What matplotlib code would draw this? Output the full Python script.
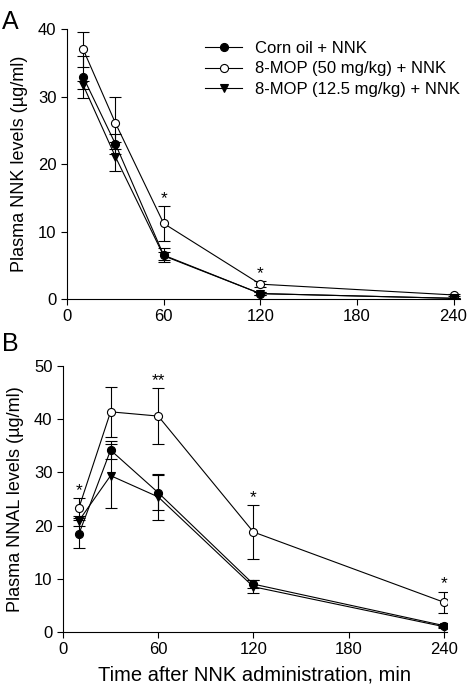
import matplotlib
matplotlib.use("Agg")
import matplotlib.pyplot as plt
import numpy as np

plt.rcParams['font.family'] = ['Liberation Sans', 'DejaVu Sans']

time = [10, 30, 60, 120, 240]
labels = ["Corn oil + NNK", "8-MOP (50 mg/kg) + NNK", "8-MOP (12.5 mg/kg) + NNK"]

# Panel A: plasma NNK (ug/ml)
nnk_corn = [32.9, 23.0, 6.5, 0.8, 0.1]
nnk_corn_err = [3.1, 1.5, 1.0, 0.2, 0.1]
nnk_mop50 = [37.0, 26.1, 11.2, 2.2, 0.6]
nnk_mop50_err = [2.6, 3.9, 2.55, 0.4, 0.1]
nnk_mop12 = [31.7, 21.1, 6.4, 0.8, 0.1]
nnk_mop12_err = [0.6, 2.1, 0.6, 0.2, 0.1]
nnk_stars = {60: "*", 120: "*"}

# Panel B: plasma NNAL (ug/ml)
nnal_corn = [18.4, 34.2, 26.2, 9.0, 1.2]
nnal_corn_err = [2.7, 1.7, 3.3, 0.8, 0.3]
nnal_mop50 = [23.3, 41.4, 40.6, 18.8, 5.6]
nnal_mop50_err = [1.9, 4.7, 5.2, 5.0, 2.0]
nnal_mop12 = [20.9, 29.4, 25.4, 8.5, 1.0]
nnal_mop12_err = [0.9, 6.0, 4.3, 1.2, 0.2]
nnal_stars = {10: "*", 60: "**", 120: "*", 240: "*"}

styles = [
    dict(marker="o", mfc="black", mec="black"),
    dict(marker="o", mfc="white", mec="black"),
    dict(marker="v", mfc="black", mec="black"),
]


def draw_panel(ax, series, errs, stars, ymax, yticks, xmax):
    for vals, err, st, lab in zip(series, errs, styles, labels):
        ax.errorbar(time, vals, yerr=err, color="black", lw=0.8, ms=5.8,
                    elinewidth=0.8, capsize=4, capthick=0.8, mew=0.8,
                    label=lab, **st)
    # significance marks above the 50 mg/kg group
    top = {t: v + e for t, v, e in zip(time, series[1], errs[1])}
    for t, s in stars.items():
        ax.annotate(s, (t, top[t]), xytext=(0, 0), textcoords="offset points",
                    ha="center", va="bottom", fontsize=12.5)
    ax.set_xlim(0, xmax)
    ax.set_ylim(0, ymax)
    ax.set_xticks([0, 60, 120, 180, 240])
    ax.set_yticks(yticks)
    ax.spines["top"].set_visible(False)
    ax.spines["right"].set_visible(False)
    ax.tick_params(direction="out", length=4, width=0.8, labelsize=12)


fig = plt.figure(figsize=(4.7, 6.96), dpi=100)
axA = fig.add_axes([0.1426, 0.5704, 0.836, 0.3879])
axB = fig.add_axes([0.134, 0.092, 0.817, 0.382])

draw_panel(axA, [nnk_corn, nnk_mop50, nnk_mop12],
           [nnk_corn_err, nnk_mop50_err, nnk_mop12_err],
           nnk_stars, 40, [0, 10, 20, 30, 40], 244)
draw_panel(axB, [nnal_corn, nnal_mop50, nnal_mop12],
           [nnal_corn_err, nnal_mop50_err, nnal_mop12_err],
           nnal_stars, 50, [0, 10, 20, 30, 40, 50], 242)

axA.set_ylabel("Plasma NNK levels (\u00b5g/ml)", fontsize=13, labelpad=7)
axB.set_ylabel("Plasma NNAL levels (\u00b5g/ml)", fontsize=13, labelpad=7)
axB.set_xlabel("Time after NNK administration, min", fontsize=14.5, labelpad=6)

handles, labs = axA.get_legend_handles_labels()
handles = [h[0] for h in handles]
axA.legend(handles, labs, loc="upper left", bbox_to_anchor=(0.335, 0.98),
           frameon=False, fontsize=12, handlelength=2.2, handletextpad=0.8,
           labelspacing=0.32, borderaxespad=0)

fig.text(0.004, 0.968, "A", fontsize=18, va="center")
fig.text(0.004, 0.506, "B", fontsize=18, va="center")

fig.savefig("out.png", dpi=100)
